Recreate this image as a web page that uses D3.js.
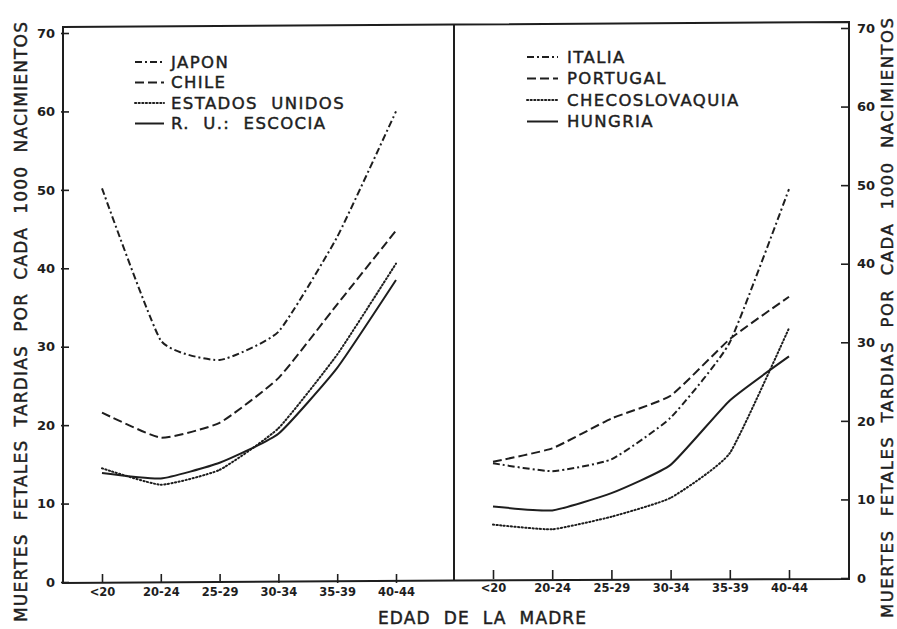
<!DOCTYPE html>
<html>
<head>
<meta charset="utf-8">
<script src="https://cdn.jsdelivr.net/npm/d3@7"></script>
<style>
  html, body { margin: 0; padding: 0; background: #fff; }
  svg { display: block; }
  text { font-family: "DejaVu Sans", "Liberation Sans", sans-serif; fill: #1e1e1e; }
</style>
</head>
<body>
<svg id="chart" width="897" height="629"></svg>
<script>
// Age groups of the mother
const ageGroups = ["<20", "20-24", "25-29", "30-34", "35-39", "40-44"];
const yTicks = [0, 10, 20, 30, 40, 50, 60, 70];

// Late fetal deaths per 1000 births — left panel
const japon   = [50.2, 30.8, 28.3, 31.9, 44.0, 60.0];
const chile   = [21.6, 18.4, 20.3, 26.0, 35.4, 44.8];
const eeuu    = [14.5, 12.4, 14.3, 19.6, 29.0, 40.6];
const escocia = [13.9, 13.2, 15.2, 18.9, 27.3, 38.5];

// Late fetal deaths per 1000 births — right panel
const italia   = [14.6, 13.6, 15.1, 20.4, 30.0, 49.5];
const portugal = [14.8, 16.5, 20.3, 23.2, 30.4, 35.8];
const checo    = [6.8, 6.2, 7.8, 10.2, 15.9, 31.8];
const hungria  = [9.1, 8.6, 10.8, 14.4, 22.6, 28.2];

const leftNames  = ["JAPON", "CHILE", "ESTADOS  UNIDOS", "R.  U.:  ESCOCIA"];
const rightNames = ["ITALIA", "PORTUGAL", "CHECOSLOVAQUIA", "HUNGRIA"];

// dash patterns: dash-dot, dashed, dotted, solid
const styles = [
  { dash: "7,3,2,3", cap: "butt" },
  { dash: "9,4", cap: "butt" },
  { dash: "1.2,2.4", cap: "round" },
  { dash: null, cap: "butt" }
];

const svg = d3.select("#chart");
const ink = "#1e1e1e";

const panels = [
  { x0: 63, x1: 454, top: 27, bottom: 583, series: [japon, chile, eeuu, escocia], names: leftNames,
    legend: { lx0: 135, lx1: 164, tx: 171, y0: 62, dy: 20.5 }, axis: "left",
    xRange: [102, 396] },
  { x0: 454, x1: 849, top: 22, bottom: 579, series: [italia, portugal, checo, hungria], names: rightNames,
    legend: { lx0: 527, lx1: 558, tx: 567, y0: 57, dy: 21.5 }, axis: "right",
    xRange: [493, 789] }
];

// outer frame (slightly skewed like the printed sheet) and the divider between panels
svg.append("path")
  .attr("d", "M63,27 L454,24.5 L849,22 L849,579 L454,580.5 L63,583 Z")
  .attr("fill", "none").attr("stroke", ink).attr("stroke-width", 2);
svg.append("line")
  .attr("x1", 454).attr("x2", 454).attr("y1", 24.5).attr("y2", 580.5)
  .attr("stroke", ink).attr("stroke-width", 2);

panels.forEach(p => {
  const y = d3.scaleLinear().domain([0, 70]).range([p.bottom - 1, p.top + 6]);
  const x = d3.scalePoint().domain(ageGroups).range(p.xRange);

  // x axis: inward ticks
  const xAxis = d3.axisBottom(x).tickSize(-9).tickPadding(5);
  const gx = svg.append("g").attr("transform", `translate(0,${p.bottom})`).call(xAxis);
  gx.select(".domain").remove();
  gx.selectAll(".tick line").attr("stroke", ink).attr("stroke-width", 1.6);
  gx.selectAll(".tick text").attr("font-size", 11.5).attr("font-weight", "bold")
    .attr("font-family", "DejaVu Sans").attr("fill", ink);

  // y axis on the outer side of each panel
  if (p.axis === "left") {
    const yAxis = d3.axisLeft(y).tickValues(yTicks).tickSize(-6).tickPadding(8).tickFormat(d3.format("d"));
    const gy = svg.append("g").attr("transform", `translate(${p.x0},0)`).call(yAxis);
    gy.select(".domain").remove();
    gy.selectAll(".tick line").attr("stroke", ink).attr("stroke-width", 1.6).attr("x1", -2);
    gy.selectAll(".tick text").attr("font-size", 13).attr("font-weight", "bold")
      .attr("font-family", "DejaVu Sans").attr("fill", ink);
  } else {
    const yAxis = d3.axisRight(y).tickValues(yTicks).tickSize(-8).tickPadding(8).tickFormat(d3.format("d"));
    const gy = svg.append("g").attr("transform", `translate(${p.x1},0)`).call(yAxis);
    gy.select(".domain").remove();
    gy.selectAll(".tick line").attr("stroke", ink).attr("stroke-width", 1.6);
    gy.selectAll(".tick text").attr("font-size", 13).attr("font-weight", "bold")
      .attr("font-family", "DejaVu Sans").attr("fill", ink);
  }

  const line = d3.line()
    .x((d, i) => x(ageGroups[i]))
    .y(d => y(d))
    .curve(d3.curveCardinal.tension(0.55));

  p.series.forEach((s, k) => {
    svg.append("path")
      .datum(s)
      .attr("d", line)
      .attr("fill", "none")
      .attr("stroke", ink)
      .attr("stroke-width", 2)
      .attr("stroke-linecap", styles[k].cap)
      .attr("stroke-dasharray", styles[k].dash);
  });

  // legend
  const L = p.legend;
  p.names.forEach((n, k) => {
    const ly = L.y0 + k * L.dy;
    svg.append("line")
      .attr("x1", L.lx0).attr("x2", L.lx1).attr("y1", ly).attr("y2", ly)
      .attr("stroke", ink).attr("stroke-width", 2)
      .attr("stroke-linecap", styles[k].cap)
      .attr("stroke-dasharray", styles[k].dash);
    svg.append("text")
      .attr("x", L.tx).attr("y", ly)
      .attr("dy", "0.36em")
      .attr("font-size", 16.5)
      .attr("letter-spacing", 1.4)
      .attr("stroke", ink).attr("stroke-width", 0.45)
      .attr("xml:space", "preserve")
      .text(n);
  });
});

// axis titles
const yTitle = "MUERTES  FETALES  TARDIAS  POR  CADA  1000  NACIMIENTOS";
svg.append("text")
  .attr("transform", "translate(27,322) rotate(-90)")
  .attr("text-anchor", "middle")
  .attr("font-size", 17)
  .attr("stroke", ink).attr("stroke-width", 0.45)
  .attr("textLength", 600).attr("lengthAdjust", "spacing")
  .attr("xml:space", "preserve")
  .text(yTitle);
svg.append("text")
  .attr("transform", "translate(893,318) rotate(-90)")
  .attr("text-anchor", "middle")
  .attr("font-size", 16.5)
  .attr("stroke", ink).attr("stroke-width", 0.45)
  .attr("textLength", 600).attr("lengthAdjust", "spacing")
  .attr("xml:space", "preserve")
  .text(yTitle);
svg.append("text")
  .attr("x", 482).attr("y", 624)
  .attr("text-anchor", "middle")
  .attr("font-size", 17)
  .attr("stroke", ink).attr("stroke-width", 0.45)
  .attr("textLength", 208).attr("lengthAdjust", "spacing")
  .attr("xml:space", "preserve")
  .text("EDAD  DE  LA  MADRE");
</script>
</body>
</html>
